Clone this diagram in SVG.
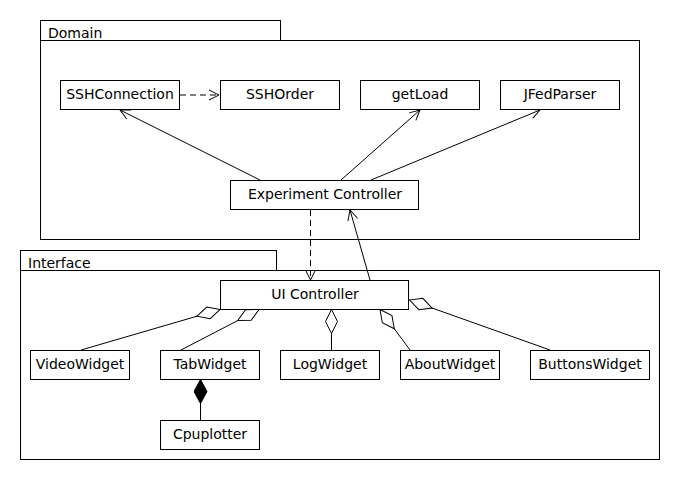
<svg xmlns="http://www.w3.org/2000/svg" width="680" height="480" viewBox="0 0 680 480">
<style>
.box{fill:#fff;stroke:#000;stroke-width:1}
.pkg{fill:#fff;stroke:#000;stroke-width:1}
text{font-family:"DejaVu Sans",sans-serif;font-size:14px;fill:#000}
.c{text-anchor:middle}
.ln{stroke:#000;stroke-width:1;fill:none}
.dash{stroke-dasharray:6,4}
</style>
<defs>
<marker id="open" viewBox="-12 -7 13 14" refX="0" refY="0" markerWidth="13" markerHeight="14" markerUnits="userSpaceOnUse" orient="auto">
<path d="M-10,-5 L0,0 L-10,5" fill="none" stroke="#000" stroke-width="1"/>
</marker>
<marker id="agg" viewBox="-25 -7 26 14" refX="0" refY="0" markerWidth="26" markerHeight="14" markerUnits="userSpaceOnUse" orient="auto">
<path d="M0,0 L-12,-6 L-24,0 L-12,6 Z" fill="#fff" stroke="#000" stroke-width="1"/>
</marker>
<marker id="comp" viewBox="-25 -7 26 14" refX="0" refY="0" markerWidth="26" markerHeight="14" markerUnits="userSpaceOnUse" orient="auto">
<path d="M0,0 L-12,-6.5 L-24,0 L-12,6.5 Z" fill="#000" stroke="#000" stroke-width="1"/>
</marker>
</defs>
<rect width="680" height="480" fill="#fff"/>
<g id="pkg-domain">
<rect class="pkg" x="40.5" y="20.5" width="240" height="20"/>
<rect class="pkg" x="40.5" y="40.5" width="599" height="199"/>
<text x="48" y="38">Domain</text>
</g>
<g id="pkg-interface">
<rect class="pkg" x="20.5" y="250.5" width="256" height="20"/>
<rect class="pkg" x="20.5" y="270.5" width="639" height="189"/>
<text x="28" y="268">Interface</text>
</g>
<g id="connectors">
<line class="ln dash" x1="180" y1="95" x2="219" y2="95" marker-end="url(#open)"/>
<line class="ln" x1="260" y1="180" x2="120" y2="110" marker-end="url(#open)"/>
<line class="ln" x1="341" y1="180" x2="420" y2="110" marker-end="url(#open)"/>
<line class="ln" x1="371" y1="180" x2="540" y2="110" marker-end="url(#open)"/>
<line class="ln dash" x1="310.5" y1="210" x2="310.5" y2="280" marker-end="url(#open)"/>
<line class="ln" x1="370" y1="280" x2="350" y2="210" marker-end="url(#open)"/>
<line class="ln" x1="81" y1="350" x2="220" y2="309.5" marker-end="url(#agg)"/>
<line class="ln" x1="181" y1="350" x2="259" y2="309.5" marker-end="url(#agg)"/>
<line class="ln" x1="331.5" y1="350" x2="331.5" y2="309.5" marker-end="url(#agg)"/>
<line class="ln" x1="410" y1="350" x2="380" y2="309.5" marker-end="url(#agg)"/>
<line class="ln" x1="550" y1="350" x2="409.5" y2="300" marker-end="url(#agg)"/>
<line class="ln" x1="200.5" y1="420" x2="200.5" y2="379.5" marker-end="url(#comp)"/>
</g>
<g id="SSHConnection"><rect class="box" x="60.5" y="80.5" width="119" height="29"/><text class="c" x="120" y="99">SSHConnection</text></g>
<g id="SSHOrder"><rect class="box" x="220.5" y="80.5" width="119" height="29"/><text class="c" x="280" y="99">SSHOrder</text></g>
<g id="getLoad"><rect class="box" x="360.5" y="80.5" width="119" height="29"/><text class="c" x="420" y="99">getLoad</text></g>
<g id="JFedParser"><rect class="box" x="500.5" y="80.5" width="119" height="29"/><text class="c" x="560" y="99">JFedParser</text></g>
<g id="ExperimentController"><rect class="box" x="230.5" y="180.5" width="188" height="29"/><text class="c" x="325" y="199">Experiment Controller</text></g>
<g id="UIController"><rect class="box" x="220.5" y="280.5" width="188" height="29"/><text class="c" x="315" y="299">UI Controller</text></g>
<g id="VideoWidget"><rect class="box" x="30.5" y="350.5" width="99" height="29"/><text class="c" x="80" y="369">VideoWidget</text></g>
<g id="TabWidget"><rect class="box" x="160.5" y="350.5" width="99" height="29"/><text class="c" x="210" y="369">TabWidget</text></g>
<g id="LogWidget"><rect class="box" x="280.5" y="350.5" width="99" height="29"/><text class="c" x="330" y="369">LogWidget</text></g>
<g id="AboutWidget"><rect class="box" x="400.5" y="350.5" width="99" height="29"/><text class="c" x="450" y="369">AboutWidget</text></g>
<g id="ButtonsWidget"><rect class="box" x="530.5" y="350.5" width="119" height="29"/><text class="c" x="590" y="369">ButtonsWidget</text></g>
<g id="Cpuplotter"><rect class="box" x="160.5" y="420.5" width="99" height="29"/><text class="c" x="210" y="439">Cpuplotter</text></g>
</svg>
